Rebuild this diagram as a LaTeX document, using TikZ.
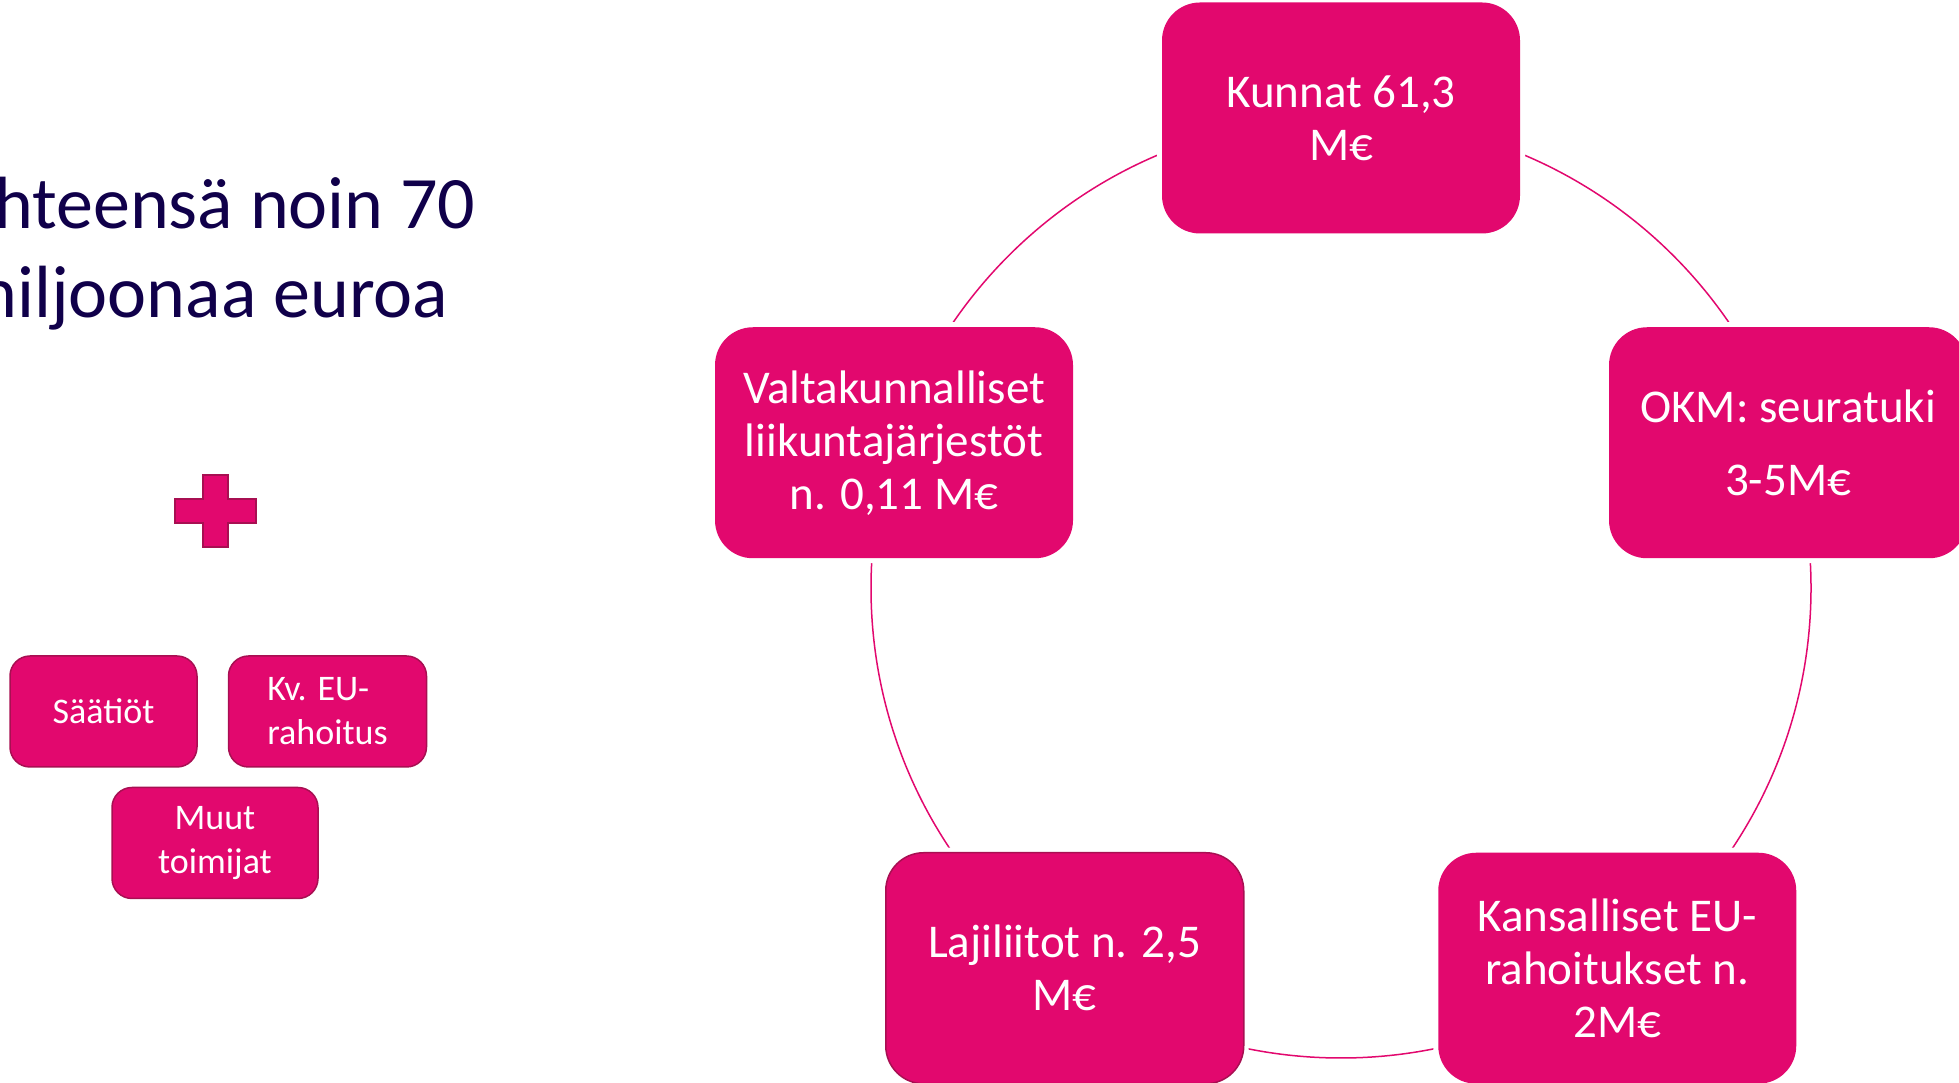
\documentclass[tikz,border=0pt]{standalone}
\usepackage{fontspec}
\setmainfont{Carlito}
\usetikzlibrary{positioning, calc}

\definecolor{fundpink}{HTML}{E2086E}
\definecolor{fundedge}{HTML}{A80F52}
\definecolor{titlenavy}{HTML}{10004A}

\begin{document}
\begin{tikzpicture}[
    x=1pt, y=1pt,
    fund/.style={rectangle, rounded corners=38pt, fill=fundpink, text=white, align=center, minimum width=358pt, minimum height=231pt, font=\fontsize{47}{53}\selectfont, preaction={draw=white, line width=10pt}},
    extra/.style={rectangle, rounded corners=20pt, fill=fundpink, draw=fundedge, line width=1.5pt, text=white, align=center, minimum height=111pt, font=\fontsize{36}{44}\selectfont},
    ring/.style={draw=fundpink, line width=1.5pt}
]
\useasboundingbox (0,0) rectangle (1959,1083);
\clip (0,0) rectangle (1959,1083);

% Total
\node[anchor=base west, align=left, inner sep=0pt, text=titlenavy, font=\fontsize{74}{89}\selectfont] (total) at (-42,765) {Yhteensä noin 70\\miljoonaa euroa};

% Plus sign
\draw[fill=fundpink, draw=fundedge, line width=1.5pt] (203,536) -- (228,536) -- (228,560) -- (256,560) -- (256,584) -- (228,584) -- (228,608) -- (203,608) -- (203,584) -- (175,584) -- (175,560) -- (203,560) -- cycle;

% Other sources
\node[extra, minimum width=187pt] (saatiot) at (103.5,371.5) {Säätiöt};
\node[extra, minimum width=198pt, align=left, right=30pt of saatiot] (kveu) {Kv. EU-\\rahoitus};
\node[extra, minimum width=206pt] (muut) at (215,240) {Muut\\toimijat};

% Ring of main sources
\coordinate (hub) at (1341,495);
\draw[ring] (hub) circle[radius=470];

\node[fund] (kunnat) at ($(hub)+(90:470)$) {Kunnat 61,3\\M€};
\node[fund] (okm) at ($(hub)+(18:470)$) {OKM: seuratuki\\[20pt]3-5M€};
\node[fund] (kansalliset) at ($(hub)+(-54:470)$) {Kansalliset EU-\\rahoitukset n.\\2M€};
\node[fund, draw=fundedge, line width=1.5pt] (lajiliitot) at ($(hub)+(-126:470)$) {Lajiliitot n. 2,5\\M€};
\node[fund] (valtakunnalliset) at ($(hub)+(162:470)$) {Valtakunnalliset\\liikuntajärjestöt\\n. 0,11 M€};

\end{tikzpicture}
\end{document}
